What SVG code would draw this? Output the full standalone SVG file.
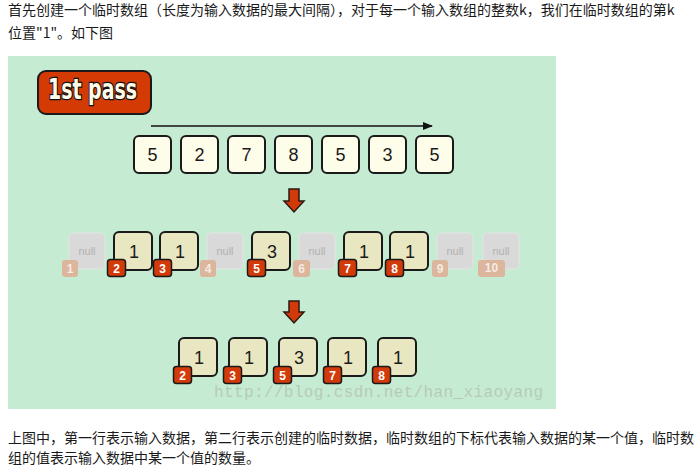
<svg xmlns="http://www.w3.org/2000/svg" width="698" height="471" viewBox="0 0 698 471">
<defs>
<style>
.para{font-family:"Noto Sans CJK SC","Liberation Sans",sans-serif;font-size:14px;fill:#1a1a1a}
.inbox{fill:#fdfde9;stroke:#1a1a1a;stroke-width:2}
.valbox{fill:#e8e7c1;stroke:#1a1a1a;stroke-width:2}
.nullbox{fill:#d9d9d9;stroke:#e4e4e4;stroke-width:1}
.num{font-family:"Liberation Sans",Arial,sans-serif;font-size:18px;fill:#1a1a1a;text-anchor:middle}
.nulltxt{font-family:"Liberation Sans",Arial,sans-serif;font-size:11px;fill:#b2b2b2;text-anchor:middle}
.idx{fill:#d23a0a;stroke:#1a1a1a;stroke-width:1.5}
.idxoff{fill:#dbb59c}
.idxtxt{font-family:"Liberation Sans",Arial,sans-serif;font-size:12px;font-weight:bold;fill:#ffffff;text-anchor:middle}
.idxofftxt{font-family:"Liberation Sans",Arial,sans-serif;font-size:12px;font-weight:bold;fill:#f6ebe3;text-anchor:middle}
.down{fill:#d23a0a;stroke:#2a1a10;stroke-width:1.5;stroke-linejoin:miter}
</style>
<marker id="ah" markerWidth="10" markerHeight="8" refX="9" refY="4" orient="auto" markerUnits="userSpaceOnUse">
<path d="M0,0 L10,4 L0,8 Z" fill="#111"/>
</marker>
</defs>
<rect width="698" height="471" fill="#ffffff"/>
<text class="para" x="8" y="15">首先创建一个临时数组（长度为输入数据的最大间隔），对于每一个输入数组的整数k，我们在临时数组的第k</text>
<text class="para" x="8" y="38">位置"1"。如下图</text>
<rect x="8" y="56" width="548" height="353" fill="#c6ebd3"/>

<g id="badge">
<rect x="38" y="71" width="113" height="43" rx="8" fill="#d43a04" stroke="#1a1a1a" stroke-width="2"/>
<g transform="translate(48,99) scale(1,1.08)">
<text x="0" y="0" textLength="89" lengthAdjust="spacingAndGlyphs" font-family="'DejaVu Sans Condensed','DejaVu Sans',sans-serif" font-weight="bold" font-size="27" fill="#fffbe8" stroke="#111" stroke-width="2.4" paint-order="stroke">1st pass</text>
</g>
</g>

<g id="connectors">
<line x1="151" y1="126" x2="432" y2="126" stroke="#111" stroke-width="1.6" marker-end="url(#ah)"/>
<path class="down" d="M289,189 H299 V201 H304 L294,212 L284,201 H289 Z"/>
<path class="down" d="M289,301 H299 V312 H304 L294,323 L284,312 H289 Z"/>
</g>

<g id="input">
<g id="in1"><rect class="inbox" x="134" y="136" width="37" height="37" rx="5"/><text class="num" x="152.5" y="161">5</text></g>
<g id="in2"><rect class="inbox" x="181" y="136" width="37" height="37" rx="5"/><text class="num" x="199.5" y="161">2</text></g>
<g id="in3"><rect class="inbox" x="228" y="136" width="37" height="37" rx="5"/><text class="num" x="246.5" y="161">7</text></g>
<g id="in4"><rect class="inbox" x="275" y="136" width="37" height="37" rx="5"/><text class="num" x="293.5" y="161">8</text></g>
<g id="in5"><rect class="inbox" x="322" y="136" width="37" height="37" rx="5"/><text class="num" x="340.5" y="161">5</text></g>
<g id="in6"><rect class="inbox" x="369" y="136" width="37" height="37" rx="5"/><text class="num" x="387.5" y="161">3</text></g>
<g id="in7"><rect class="inbox" x="416" y="136" width="37" height="37" rx="5"/><text class="num" x="434.5" y="161">5</text></g>
</g>

<g id="temp">
<g id="t1"><rect class="nullbox" x="69" y="233" width="36" height="36" rx="5"/><text class="nulltxt" x="87" y="255">null</text><rect class="idxoff" x="62" y="260" width="16" height="17" rx="3"/><text class="idxofftxt" x="70" y="273">1</text></g>
<g id="t2"><rect class="valbox" x="114" y="232" width="38" height="38" rx="5"/><text class="num" x="134" y="257.5">1</text><rect class="idx" x="107.5" y="259.5" width="18" height="17" rx="3"/><text class="idxtxt" x="116.5" y="272.5">2</text></g>
<g id="t3"><rect class="valbox" x="160" y="232" width="38" height="38" rx="5"/><text class="num" x="180" y="257.5">1</text><rect class="idx" x="153.5" y="259.5" width="18" height="17" rx="3"/><text class="idxtxt" x="162.5" y="272.5">3</text></g>
<g id="t4"><rect class="nullbox" x="207" y="233" width="36" height="36" rx="5"/><text class="nulltxt" x="225" y="255">null</text><rect class="idxoff" x="200" y="260" width="16" height="17" rx="3"/><text class="idxofftxt" x="208" y="273">4</text></g>
<g id="t5"><rect class="valbox" x="252" y="232" width="38" height="38" rx="5"/><text class="num" x="272" y="257.5">3</text><rect class="idx" x="247.5" y="259.5" width="18" height="17" rx="3"/><text class="idxtxt" x="256.5" y="272.5">5</text></g>
<g id="t6"><rect class="nullbox" x="299" y="233" width="36" height="36" rx="5"/><text class="nulltxt" x="317" y="255">null</text><rect class="idxoff" x="293" y="260" width="17" height="17" rx="3"/><text class="idxofftxt" x="301.5" y="273">6</text></g>
<g id="t7"><rect class="valbox" x="344" y="232" width="38" height="38" rx="5"/><text class="num" x="364" y="257.5">1</text><rect class="idx" x="338.5" y="259.5" width="18" height="17" rx="3"/><text class="idxtxt" x="347.5" y="272.5">7</text></g>
<g id="t8"><rect class="valbox" x="390" y="232" width="38" height="38" rx="5"/><text class="num" x="410" y="257.5">1</text><rect class="idx" x="385.5" y="259.5" width="18" height="17" rx="3"/><text class="idxtxt" x="394.5" y="272.5">8</text></g>
<g id="t9"><rect class="nullbox" x="437" y="233" width="36" height="36" rx="5"/><text class="nulltxt" x="455" y="255">null</text><rect class="idxoff" x="432" y="260" width="16" height="17" rx="3"/><text class="idxofftxt" x="440" y="273">9</text></g>
<g id="t10"><rect class="nullbox" x="483" y="233" width="36" height="36" rx="5"/><text class="nulltxt" x="501" y="255">null</text><rect class="idxoff" x="478" y="260" width="27" height="17" rx="3"/><text class="idxofftxt" x="491.5" y="271.5" font-size="8">10</text></g>
</g>

<g id="result">
<g id="r1"><rect class="valbox" x="179" y="338" width="38" height="38" rx="5"/><text class="num" x="199" y="363.5">1</text><rect class="idx" x="173.5" y="366.5" width="18" height="17" rx="3"/><text class="idxtxt" x="182.5" y="379.5">2</text></g>
<g id="r2"><rect class="valbox" x="229" y="338" width="38" height="38" rx="5"/><text class="num" x="249" y="363.5">1</text><rect class="idx" x="223.5" y="366.5" width="18" height="17" rx="3"/><text class="idxtxt" x="232.5" y="379.5">3</text></g>
<g id="r3"><rect class="valbox" x="279" y="338" width="38" height="38" rx="5"/><text class="num" x="299" y="363.5">3</text><rect class="idx" x="273.5" y="366.5" width="18" height="17" rx="3"/><text class="idxtxt" x="282.5" y="379.5">5</text></g>
<g id="r4"><rect class="valbox" x="328" y="338" width="38" height="38" rx="5"/><text class="num" x="348" y="363.5">1</text><rect class="idx" x="323.5" y="366.5" width="18" height="17" rx="3"/><text class="idxtxt" x="332.5" y="379.5">7</text></g>
<g id="r5"><rect class="valbox" x="378" y="338" width="38" height="38" rx="5"/><text class="num" x="398" y="363.5">1</text><rect class="idx" x="372.5" y="366.5" width="18" height="17" rx="3"/><text class="idxtxt" x="381.5" y="379.5">8</text></g>
</g>

<text x="214" y="396.5" font-family="'Liberation Mono','Courier New',monospace" font-size="16" textLength="329" fill="#b6cabc">http://blog.csdn.net/han_xiaoyang</text>

<text class="para" x="8" y="443">上图中，第一行表示输入数据，第二行表示创建的临时数据，临时数组的下标代表输入数据的某一个值，临时数</text>
<text class="para" x="8" y="463">组的值表示输入数据中某一个值的数量。</text>
</svg>
